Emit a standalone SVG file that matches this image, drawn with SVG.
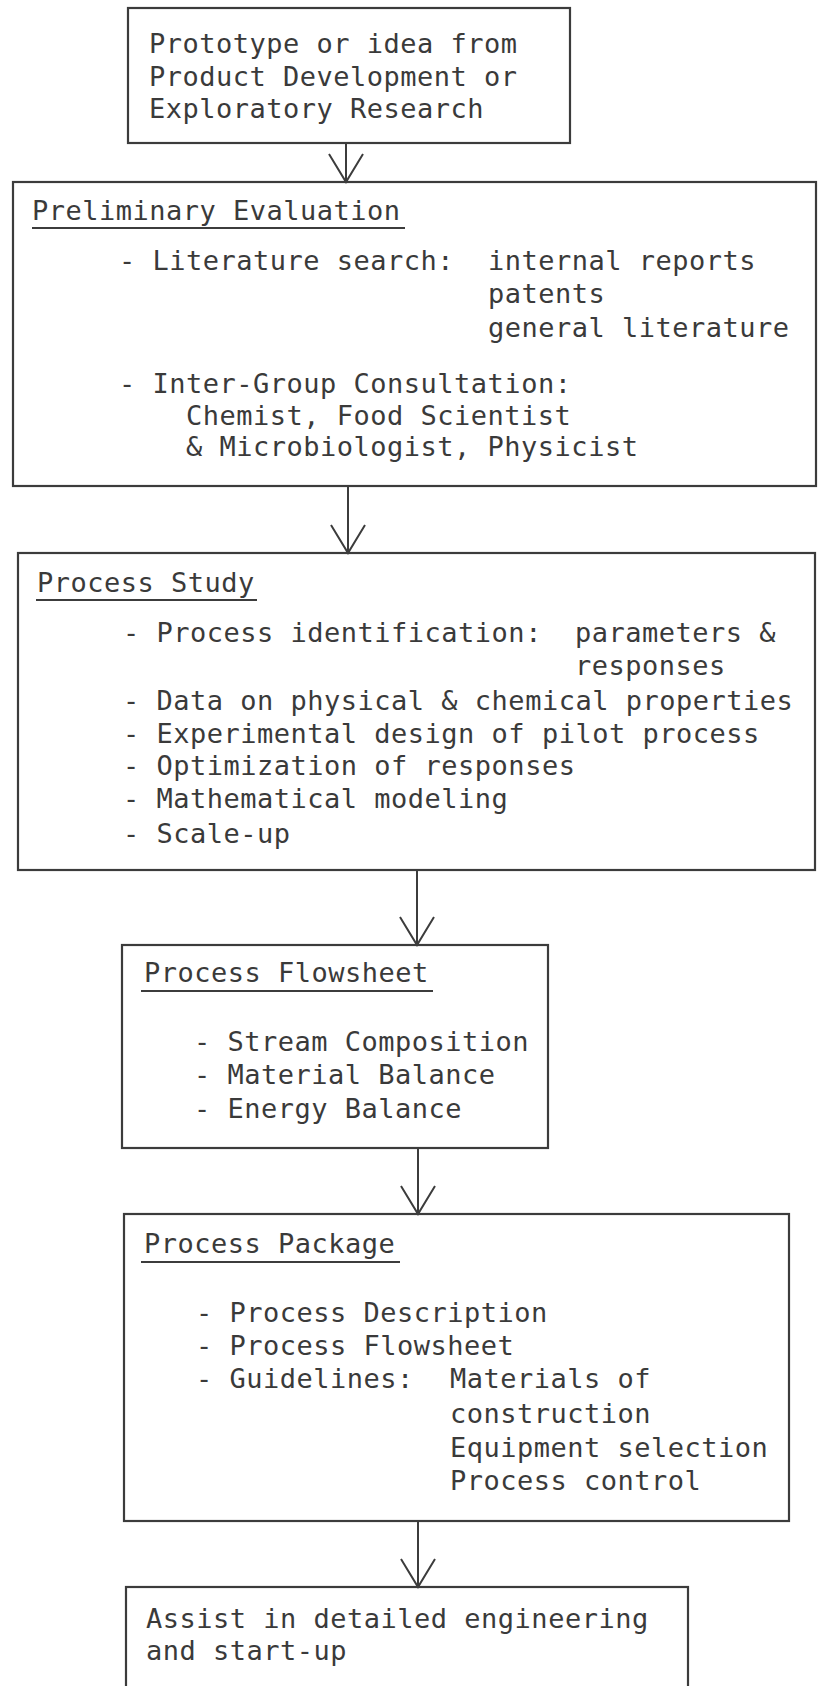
<svg xmlns="http://www.w3.org/2000/svg" width="819" height="1686" viewBox="0 0 819 1686">
<style>
.box{fill:none;stroke:#3c3c3c;stroke-width:2.2}
.t{font-family:"DejaVu Sans Mono","Liberation Mono",monospace;font-size:27px;letter-spacing:0.5px;fill:#3a3a3a}
.ul{stroke:#3c3c3c;stroke-width:2}
.c{stroke:#3c3c3c;stroke-width:2;fill:none}
</style>
<defs>
<marker id="v" markerUnits="userSpaceOnUse" viewBox="-2 -20 34 40" markerWidth="34" markerHeight="40" refX="28" refY="0" orient="auto">
<path d="M0,-17 L28,0 L0,17" fill="none" stroke="#3c3c3c" stroke-width="2"/>
</marker>
</defs>
<rect width="819" height="1686" fill="#ffffff"/>
<g id="connectors">
<line class="c" x1="346" y1="143" x2="346" y2="182" marker-end="url(#v)"/>
<line class="c" x1="348" y1="486" x2="348" y2="553" marker-end="url(#v)"/>
<line class="c" x1="417" y1="870" x2="417" y2="945" marker-end="url(#v)"/>
<line class="c" x1="418" y1="1148" x2="418" y2="1214" marker-end="url(#v)"/>
<line class="c" x1="418" y1="1521" x2="418" y2="1587" marker-end="url(#v)"/>
</g>
<g id="n1">
<rect class="box" x="128" y="8" width="442" height="135"/>
<text class="t" x="149" y="53">Prototype or idea from</text>
<text class="t" x="149" y="86">Product Development or</text>
<text class="t" x="149" y="118">Exploratory Research</text>
</g>
<g id="n2">
<rect class="box" x="13" y="182" width="803" height="304"/>
<text class="t" x="32" y="220">Preliminary Evaluation</text>
<line class="ul" x1="32" y1="228" x2="405" y2="228"/>
<text class="t" x="119" y="270">- Literature search:</text>
<text class="t" x="488" y="270">internal reports</text>
<text class="t" x="488" y="303">patents</text>
<text class="t" x="488" y="337">general literature</text>
<text class="t" x="119" y="393">- Inter-Group Consultation:</text>
<text class="t" x="186" y="425">Chemist, Food Scientist</text>
<text class="t" x="186" y="456">&amp; Microbiologist, Physicist</text>
</g>
<g id="n3">
<rect class="box" x="18" y="553" width="797" height="317"/>
<text class="t" x="37" y="592">Process Study</text>
<line class="ul" x1="36" y1="600" x2="257" y2="600"/>
<text class="t" x="123" y="642">- Process identification:</text>
<text class="t" x="575" y="642">parameters &amp;</text>
<text class="t" x="575" y="675">responses</text>
<text class="t" x="123" y="710">- Data on physical &amp; chemical properties</text>
<text class="t" x="123" y="743">- Experimental design of pilot process</text>
<text class="t" x="123" y="775">- Optimization of responses</text>
<text class="t" x="123" y="808">- Mathematical modeling</text>
<text class="t" x="123" y="843">- Scale-up</text>
</g>
<g id="n4">
<rect class="box" x="122" y="945" width="426" height="203"/>
<text class="t" x="144" y="982">Process Flowsheet</text>
<line class="ul" x1="141" y1="991" x2="433" y2="991"/>
<text class="t" x="194" y="1051">- Stream Composition</text>
<text class="t" x="194" y="1084">- Material Balance</text>
<text class="t" x="194" y="1118">- Energy Balance</text>
</g>
<g id="n5">
<rect class="box" x="124" y="1214" width="665" height="307"/>
<text class="t" x="144" y="1253">Process Package</text>
<line class="ul" x1="141" y1="1262" x2="400" y2="1262"/>
<text class="t" x="196" y="1322">- Process Description</text>
<text class="t" x="196" y="1355">- Process Flowsheet</text>
<text class="t" x="196" y="1388">- Guidelines:</text>
<text class="t" x="450" y="1388">Materials of</text>
<text class="t" x="450" y="1423">construction</text>
<text class="t" x="450" y="1457">Equipment selection</text>
<text class="t" x="450" y="1490">Process control</text>
</g>
<g id="n6">
<rect class="box" x="126" y="1587" width="562" height="120"/>
<text class="t" x="146" y="1628">Assist in detailed engineering</text>
<text class="t" x="146" y="1660">and start-up</text>
</g>
</svg>
